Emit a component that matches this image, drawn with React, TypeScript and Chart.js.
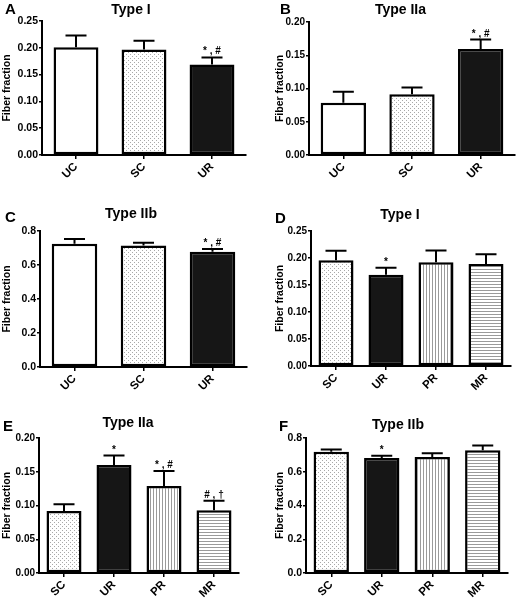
import { useEffect, useRef } from "react";
import { Chart, registerables } from "chart.js";

Chart.register(...registerables);
Chart.defaults.font.family = "'Liberation Sans', Arial, sans-serif";

// ---------- data ----------
const groups3 = ["UC", "SC", "UR"];
const groups4 = ["SC", "UR", "PR", "MR"];

const typeI_A = [0.201, 0.197, 0.169];
const typeI_A_sem = [0.022, 0.016, 0.013];
const typeI_A_marks = ["", "", "* , #"];

const typeIIa_B = [0.0785, 0.0915, 0.1595];
const typeIIa_B_sem = [0.0165, 0.01, 0.014];
const typeIIa_B_marks = ["", "", "* , #"];

const typeIIb_C = [0.725, 0.715, 0.678];
const typeIIb_C_sem = [0.028, 0.016, 0.016];
const typeIIb_C_marks = ["", "", "* , #"];

const typeI_D = [0.196, 0.169, 0.192, 0.189];
const typeI_D_sem = [0.0175, 0.013, 0.022, 0.018];
const typeI_D_marks = ["", "*", "", ""];

const typeIIa_E = [0.092, 0.16, 0.129, 0.093];
const typeIIa_E_sem = [0.01, 0.014, 0.022, 0.014];
const typeIIa_E_marks = ["", "*", "* , #", "# , †"];

const typeIIb_F = [0.719, 0.681, 0.687, 0.727];
const typeIIb_F_sem = [0.013, 0.014, 0.022, 0.029];
const typeIIb_F_marks = ["", "*", "", ""];

const yTitle = "Fiber fraction";

// ---------- layout / style ----------
type PanelCfg = {
  letter: string;
  title: string;
  labels: string[];
  values: number[];
  sem: number[];
  marks: string[];
  max: number;
  step: number;
  dec: number;
  box: { x: number; y: number; w: number; h: number };
  area: { l: number; r: number; t: number; b: number };
  yTitleX: number;
  titlePos: [number, number];
  letterPos: [number, number];
  barPct: number;
  tickSize: number;
};

const panels: PanelCfg[] = [
  {
    letter: "A", title: "Type I", labels: groups3, values: typeI_A, sem: typeI_A_sem, marks: typeI_A_marks,
    max: 0.25, step: 0.05, dec: 2,
    box: { x: 0, y: 0, w: 258, h: 200 }, area: { l: 42, r: 246, t: 21, b: 155 },
    yTitleX: 7.5, titlePos: [131, 10], letterPos: [5, 10], barPct: 0.66, tickSize: 10.5,
  },
  {
    letter: "B", title: "Type IIa", labels: groups3, values: typeIIa_B, sem: typeIIa_B_sem, marks: typeIIa_B_marks,
    max: 0.2, step: 0.05, dec: 2,
    box: { x: 258, y: 0, w: 259, h: 200 }, area: { l: 51, r: 257, t: 22, b: 155 },
    yTitleX: 22, titlePos: [142.5, 10], letterPos: [22, 10], barPct: 0.66, tickSize: 10,
  },
  {
    letter: "C", title: "Type IIb", labels: groups3, values: typeIIb_C, sem: typeIIb_C_sem, marks: typeIIb_C_marks,
    max: 0.8, step: 0.2, dec: 1,
    box: { x: 0, y: 200, w: 258, h: 200 }, area: { l: 40, r: 247, t: 31, b: 167 },
    yTitleX: 7.5, titlePos: [131, 14], letterPos: [5, 18], barPct: 0.66, tickSize: 10.5,
  },
  {
    letter: "D", title: "Type I", labels: groups4, values: typeI_D, sem: typeI_D_sem, marks: typeI_D_marks,
    max: 0.25, step: 0.05, dec: 2,
    box: { x: 258, y: 200, w: 259, h: 200 }, area: { l: 53, r: 253, t: 31, b: 166 },
    yTitleX: 22, titlePos: [142, 15], letterPos: [17, 19], barPct: 0.7, tickSize: 10,
  },
  {
    letter: "E", title: "Type IIa", labels: groups4, values: typeIIa_E, sem: typeIIa_E_sem, marks: typeIIa_E_marks,
    max: 0.2, step: 0.05, dec: 2,
    box: { x: 0, y: 400, w: 258, h: 200 }, area: { l: 39, r: 239, t: 38, b: 173 },
    yTitleX: 7.5, titlePos: [128, 23], letterPos: [3, 27], barPct: 0.7, tickSize: 10,
  },
  {
    letter: "F", title: "Type IIb", labels: groups4, values: typeIIb_F, sem: typeIIb_F_sem, marks: typeIIb_F_marks,
    max: 0.8, step: 0.2, dec: 1,
    box: { x: 258, y: 400, w: 259, h: 200 }, area: { l: 48, r: 250, t: 38, b: 173 },
    yTitleX: 22, titlePos: [140, 25], letterPos: [21, 27], barPct: 0.7, tickSize: 10.5,
  },
];

function makePattern(kind: string): CanvasPattern | string {
  const c = document.createElement("canvas");
  if (kind === "dots") { c.width = 4; c.height = 4; }
  else if (kind === "vlines") { c.width = 3; c.height = 1; }
  else { c.width = 1; c.height = 3; }
  const ctx = c.getContext("2d")!;
  ctx.fillStyle = "#ffffff";
  ctx.fillRect(0, 0, c.width, c.height);
  ctx.fillStyle = kind === "dots" ? "#a8a8a8" : "#9a9a9a";
  if (kind === "dots") {
    ctx.fillRect(0, 0, 1, 1);
    ctx.fillRect(2, 2, 1, 1);
  } else {
    ctx.fillRect(0, 0, 1, 1);
  }
  return ctx.createPattern(c, "repeat") || "#ddd";
}

function Panel({ cfg }: { cfg: PanelCfg }) {
  const ref = useRef<HTMLCanvasElement>(null);
  useEffect(() => {
    const canvas = ref.current!;
    const fills: Record<string, any> = {
      UC: "#ffffff",
      SC: makePattern("dots"),
      UR: "#161616",
      PR: makePattern("vlines"),
      MR: makePattern("hlines"),
    };
    const { box, area } = cfg;
    const titleFontSize = 10.5;
    const titlePadTop = 1;
    const padLeft = Math.max(0, cfg.yTitleX - (titleFontSize * 1.2) / 2 - titlePadTop);

    const decor = {
      id: "decor" + cfg.letter,
      afterDraw(chart: any) {
        const ctx = chart.ctx as CanvasRenderingContext2D;
        const ys = chart.scales.y;
        const meta = chart.getDatasetMeta(0);
        ctx.save();
        ctx.strokeStyle = "#000";
        ctx.lineWidth = 2;
        meta.data.forEach((bar: any, i: number) => {
          const top = ys.getPixelForValue(cfg.values[i]);
          const cap = ys.getPixelForValue(cfg.values[i] + cfg.sem[i]);
          ctx.beginPath();
          ctx.moveTo(bar.x, top);
          ctx.lineTo(bar.x, cap);
          ctx.moveTo(bar.x - 10.5, cap);
          ctx.lineTo(bar.x + 10.5, cap);
          ctx.stroke();
          if (cfg.marks[i]) {
            ctx.fillStyle = "#000";
            ctx.font = "bold 10px 'Liberation Sans', Arial, sans-serif";
            ctx.textAlign = "center";
            ctx.textBaseline = "alphabetic";
            ctx.fillText(cfg.marks[i], bar.x, cap - 3);
          }
        });
        ctx.fillStyle = "#000";
        ctx.textBaseline = "middle";
        ctx.textAlign = "center";
        ctx.font = "bold 14px 'Liberation Sans', Arial, sans-serif";
        ctx.fillText(cfg.title, cfg.titlePos[0], cfg.titlePos[1]);
        ctx.textAlign = "left";
        ctx.font = "bold 15px 'Liberation Sans', Arial, sans-serif";
        ctx.fillText(cfg.letter, cfg.letterPos[0], cfg.letterPos[1]);
        ctx.restore();
      },
    };

    const chart = new Chart(canvas, {
      type: "bar",
      data: {
        labels: cfg.labels,
        datasets: [
          {
            data: cfg.values,
            backgroundColor: cfg.labels.map((l) => fills[l]),
            borderColor: "#000",
            borderWidth: 2.5,
            borderSkipped: false,
            barPercentage: cfg.barPct,
            categoryPercentage: 1,
          },
        ],
      },
      options: {
        responsive: false,
        animation: false,
        events: [],
        layout: { padding: { left: padLeft, top: area.t, right: box.w - area.r, bottom: 0 } },
        plugins: { legend: { display: false }, tooltip: { enabled: false } },
        scales: {
          x: {
            type: "category",
            offset: true,
            grid: { display: true, offset: false, drawOnChartArea: false, drawTicks: true, tickLength: 4, color: "#000", lineWidth: 1.5 },
            border: { display: true, color: "#000", width: 2 },
            ticks: { autoSkip: false, minRotation: 45, maxRotation: 45, color: "#000", font: { size: 11.5, weight: "bold" }, padding: 1 },
            afterFit: (s: any) => { s.height = box.h - area.b; },
          },
          y: {
            min: 0,
            max: cfg.max,
            ticks: { stepSize: cfg.step, callback: (v: any) => Number(v).toFixed(cfg.dec), color: "#000", font: { size: cfg.tickSize, weight: "bold" }, padding: 1 },
            grid: { display: true, drawOnChartArea: false, drawTicks: true, tickLength: 3, color: "#000", lineWidth: 1.5 },
            border: { display: true, color: "#000", width: 2 },
            title: { display: true, text: yTitle, color: "#000", font: { size: titleFontSize, weight: "bold" }, padding: { top: titlePadTop, bottom: 0 } },
            afterFit: (s: any) => { s.width = area.l - padLeft; },
          },
        },
      } as any,
      plugins: [decor],
    });
    return () => chart.destroy();
  }, [cfg]);
  return (
    <canvas
      ref={ref}
      width={cfg.box.w}
      height={cfg.box.h}
      style={{ position: "absolute", left: cfg.box.x, top: cfg.box.y, width: cfg.box.w, height: cfg.box.h }}
    />
  );
}

export default function App() {
  return (
    <div style={{ position: "absolute", left: 0, top: 0, width: 517, height: 600, background: "#fff", overflow: "hidden" }}>
      {panels.map((p) => (
        <Panel key={p.letter} cfg={p} />
      ))}
    </div>
  );
}
